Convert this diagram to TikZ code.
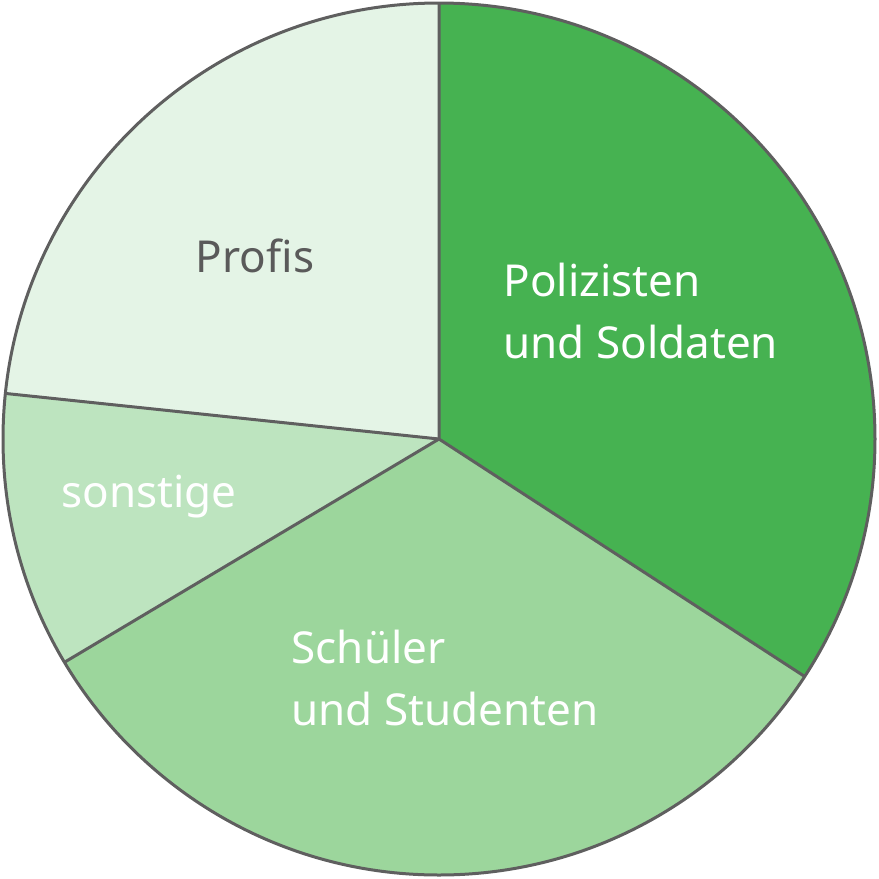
\documentclass[tikz,border=0pt]{standalone}
\usepackage{fontspec}
\setmainfont{Noto Sans}
\definecolor{gA}{HTML}{46B251}
\definecolor{gB}{HTML}{9CD69C}
\definecolor{gC}{HTML}{BDE4BF}
\definecolor{gD}{HTML}{E4F4E6}
\definecolor{edge}{HTML}{5F5F5F}
\definecolor{txt}{HTML}{5A5A5A}
\tikzset{slice/.style={draw=edge,line width=3pt,line join=round},
lbl/.style={font=\fontsize{44}{62}\selectfont,align=left}}
\begin{document}
\begin{tikzpicture}[x=1pt,y=-1pt]
\useasboundingbox (0,0) rectangle (879,879);
\coordinate (c) at (439,439);
\def\R{436}
\fill[gA] (c) -- ++(90:-\R) arc[start angle=-90,end angle=33,radius=\R] -- cycle;
\fill[gB] (c) -- ++(33:\R) arc[start angle=33,end angle=149.2,radius=\R] -- cycle;
\fill[gC] (c) -- ++(149.2:\R) arc[start angle=149.2,end angle=186,radius=\R] -- cycle;
\fill[gD] (c) -- ++(186:\R) arc[start angle=186,end angle=270,radius=\R] -- cycle;
\draw[slice] (c) -- ++(270:\R) (c) -- ++(33:\R) (c) -- ++(149.2:\R) (c) -- ++(186:\R);
\draw[slice] (c) circle[radius=\R];
\node[lbl,text=txt] (p) at (255,256) {Profis};
\node[lbl,text=white,anchor=west] (s) at (500,311) {Polizisten\\und Soldaten};
\node[lbl,text=white] (o) at (149,497) {sonstige};
\node[lbl,text=white,anchor=west] (st) at (288,678) {Schüler\\und Studenten};
\end{tikzpicture}
\end{document}
